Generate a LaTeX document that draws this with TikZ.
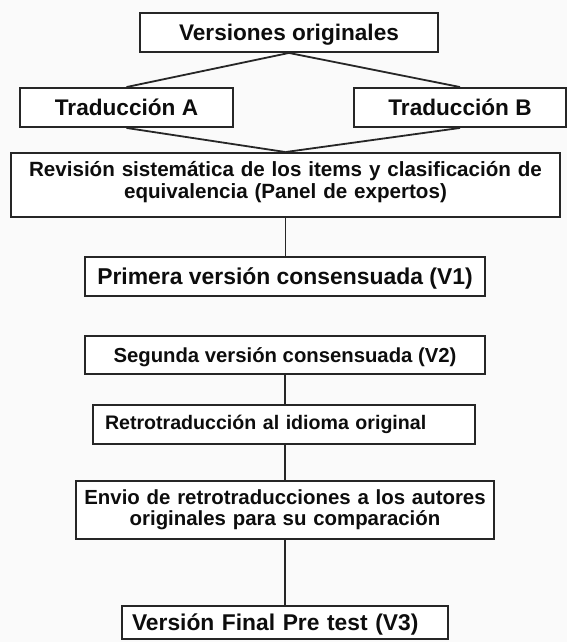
\documentclass[tikz,border=0pt]{standalone}
\usepackage{fontspec}
\setmainfont{Liberation Sans}
\begin{document}
\begin{tikzpicture}[x=1pt,y=-1pt,
  box/.style={draw=black!85, line width=1.9pt, fill=white, inner sep=0pt, text=black!95},
  conn/.style={draw=black!85, line width=1.8pt},
  fbig/.style={font={\bfseries\fontsize{22.6}{24}\selectfont}},
  fmid/.style={font={\bfseries\fontsize{20.4}{21}\selectfont}}]
\fill[black!2] (0,0) rectangle (567,642);
\useasboundingbox (0,0) rectangle (567,642);
\node[box, fbig, minimum width=298pt, minimum height=39pt, text height=16.2pt, text depth=0pt] (vo) at (289,32.5) {Versiones originales};
\node[box, fbig, minimum width=213pt, minimum height=39pt, text height=16.1pt, text depth=0pt] (ta) at (126.5,107.5) {Traducción A};
\node[box, fbig, minimum width=212pt, minimum height=39pt, text height=16.1pt, text depth=0pt] (tb) at (460,107.5) {Traducción B};
\node[box, font={\bfseries\fontsize{20.6}{22}\selectfont}, minimum width=549pt, minimum height=64pt, text width=540pt, align=center, text height=14.75pt, text depth=31pt] (rv) at (285.5,185) {Revisión sistemática de los items y clasificación de\\equivalencia (Panel de expertos)};
\node[box, font={\bfseries\fontsize{22.9}{24}\selectfont}, minimum width=400pt, minimum height=39pt, text height=16.4pt, text depth=0pt] (v1) at (285,276.5) {Primera versión consensuada (V1)};
\node[box, font={\bfseries\fontsize{20.3}{21}\selectfont}, minimum width=400pt, minimum height=38pt, text height=14.5pt, text depth=0pt] (v2) at (285,355) {Segunda versión consensuada (V2)};
\node[box, font={\bfseries\fontsize{19.6}{21}\selectfont}, minimum width=382pt, minimum height=39pt, text width=358pt, align=left, text height=14pt, text depth=5pt] (rt) at (284,424.5) {Retrotraducción al idioma original};
\node[box, fmid, minimum width=418pt, minimum height=58pt, text width=410pt, align=center, text height=14.6pt, text depth=26.6pt] (en) at (285,510) {Envio de retrotraducciones a los autores\\originales para su comparación};
\node[box, font={\bfseries\fontsize{22.8}{24}\selectfont}, minimum width=326pt, minimum height=33pt, text width=306pt, align=left, text height=16.3pt, text depth=0pt] (v3) at (285,622.5) {Versión Final Pre test (V3)};
\draw[conn] (vo.south) -- (ta.north);
\draw[conn] (vo.south) -- (tb.north);
\draw[conn] (ta.south) -- (rv.north);
\draw[conn] (tb.south) -- (rv.north);
\draw[conn] (rv.south) -- (rv.south |- v1.north);
\draw[conn] (v2.south) -- (v2.south |- rt.north);
\draw[conn] (v2.south |- rt.south) -- (v2.south |- en.north);
\draw[conn] (v2.south |- en.south) -- (v2.south |- v3.north);
\end{tikzpicture}
\end{document}
